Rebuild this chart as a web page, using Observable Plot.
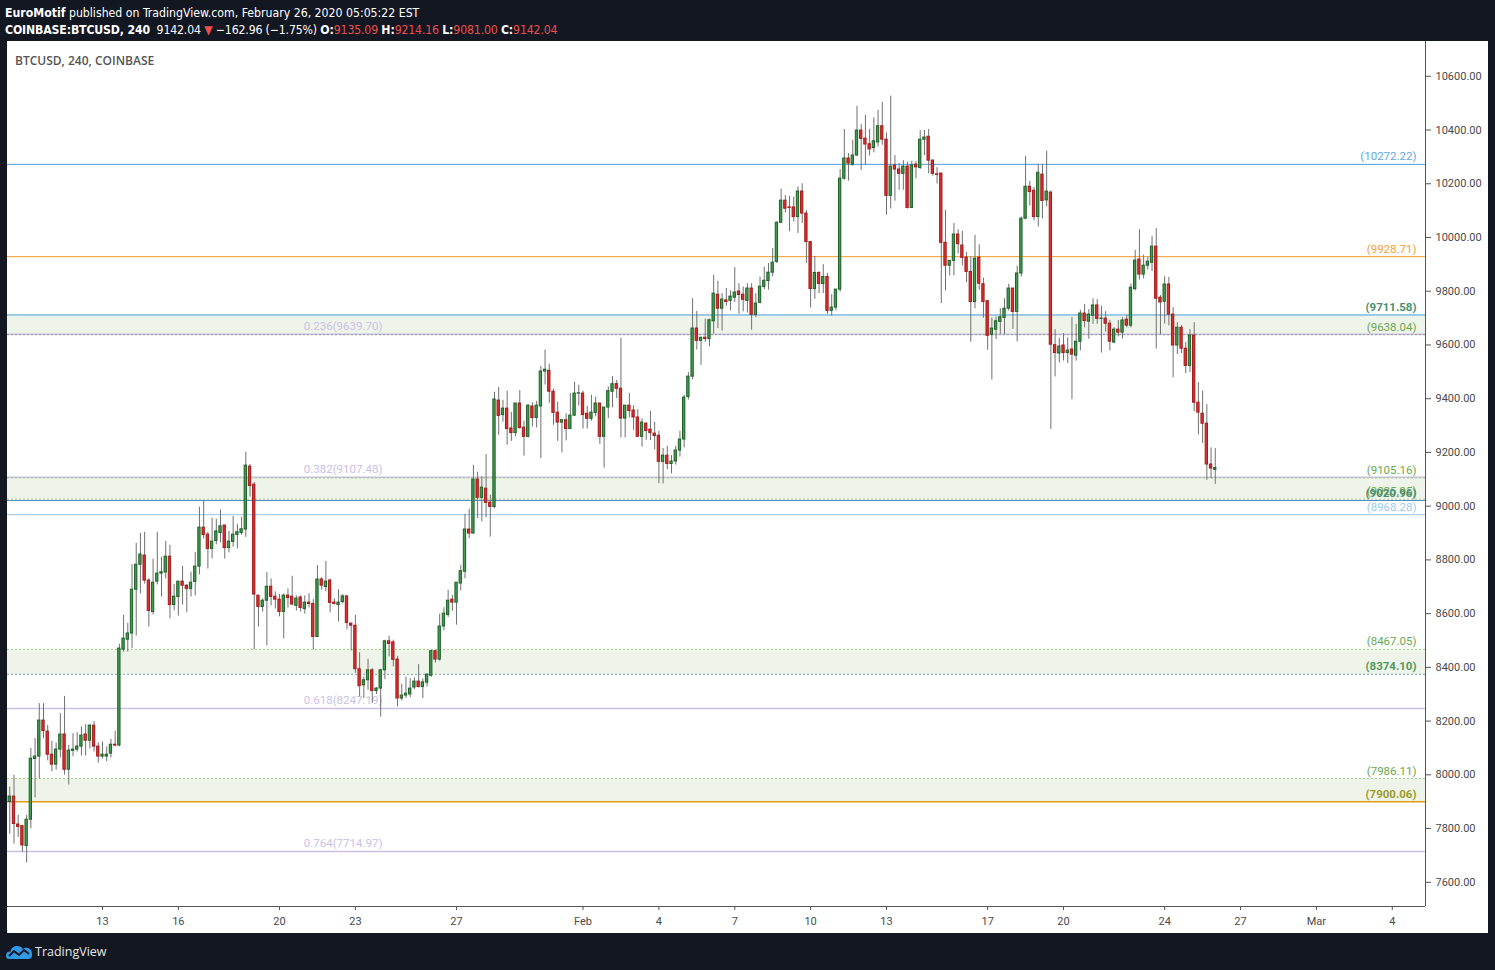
<!DOCTYPE html>
<html><head><meta charset="utf-8">
<script src="https://cdn.jsdelivr.net/npm/d3@7"></script>
<script src="https://cdn.jsdelivr.net/npm/@observablehq/plot@0.6"></script>
<style>
body{margin:0;background:#131722;width:1495px;height:970px;overflow:hidden;position:relative;}
#hdr{position:absolute;left:5px;top:5px;color:#fff;font-family:"Liberation Sans Narrow","DejaVu Sans Condensed","Open Sans",sans-serif;font-size:12.2px;line-height:17px;white-space:nowrap;}
#hdr .r{color:#ef4d4d;}
#hdr .l2{letter-spacing:-0.15px;}
#panel{position:absolute;left:7px;top:41px;width:1481px;height:892px;background:#fff;}
#ttl{position:absolute;left:8px;top:11px;color:#555;font-family:"Open Sans",Roboto,sans-serif;font-size:12px;font-weight:600;}
#foot{position:absolute;left:6px;top:941px;height:20px;display:flex;align-items:center;color:#e6e6e6;font-family:"Open Sans",Roboto,sans-serif;font-size:12.5px;}
#foot svg{margin-right:2px;}
</style></head>
<body>
<div id="hdr"><div><b>EuroMotif</b> published on TradingView.com, February 26, 2020 05:05:22 EST</div>
<div class="l2"><b>COINBASE:BTCUSD, 240</b>&nbsp; 9142.04 <span class="r">▼</span> −162.96 (−1.75%) <b>O:</b><span class="r">9135.09</span> <b>H:</b><span class="r">9214.16</span> <b>L:</b><span class="r">9081.00</span> <b>C:</b><span class="r">9142.04</span></div></div>
<div id="panel"><div id="ttl">BTCUSD, 240, COINBASE</div></div>
<div id="foot"><svg width="27" height="18" viewBox="0 0 27 18"><path d="M3 17 Q0 17 0 13.5 Q0 9.5 4.5 9.5 Q5.5 4 11 4 Q15 4 17 7 Q19 5 22 6 Q26 7.5 26 12 Q26.5 17 22 17 Z" fill="#2f9be8"/><polyline points="3,14 8,9 13,13 18,8 23,12" fill="none" stroke="#131722" stroke-width="2"/></svg><span>TradingView</span></div>
<script>
// 4-hour bars starting Jan 9 2020 08:00 UTC
const barStart = Date.UTC(2020,0,9,8);
const barStepHours = 4;
const open = [7899,7919,7815,7809,7735,7833,8059,8068,8202,8161,8075,8038,8094,8150,8019,8089,8094,8105,8150,8127,8183,8105,8068,8068,8079,8112,8109,8466,8503,8526,8689,8782,8816,8723,8606,8719,8749,8753,8812,8632,8662,8719,8704,8692,8718,8775,8920,8894,8841,8870,8900,8928,8844,8867,8893,8900,8913,9147,9080,8667,8625,8648,8700,8663,8652,8606,8667,8663,8629,8660,8617,8641,8636,8513,8727,8699,8723,8641,8632,8643,8664,8563,8555,8393,8333,8352,8389,8312,8321,8389,8497,8493,8429,8284,8295,8299,8325,8347,8327,8343,8369,8460,8429,8552,8595,8652,8641,8712,8756,8913,8898,9099,9031,9065,9013,8997,9393,9339,9363,9289,9272,9382,9292,9258,9371,9328,9371,9501,9504,9426,9348,9311,9320,9287,9337,9419,9419,9344,9325,9347,9382,9258,9367,9426,9454,9437,9326,9374,9356,9330,9258,9307,9285,9270,9262,9165,9188,9157,9166,9207,9248,9406,9482,9661,9615,9627,9622,9688,9787,9735,9766,9764,9776,9799,9787,9764,9810,9712,9757,9816,9838,9869,9909,10055,10137,10112,10112,10076,10171,10089,9983,9808,9868,9827,9853,9727,9739,9806,10219,10294,10271,10305,10398,10368,10347,10333,10354,10414,10364,10155,10268,10253,10237,10264,10110,10271,10259,10364,10375,10286,10235,10238,9980,9895,9913,10011,9970,9925,9872,9760,9925,9826,9763,9638,9657,9686,9701,9735,9810,9723,9866,10070,10189,10174,10076,10234,10138,10167,9599,9568,9598,9570,9583,9560,9612,9717,9687,9709,9747,9697,9698,9679,9609,9657,9646,9694,9672,9808,9918,9862,9895,9906,9966,9776,9761,9825,9713,9598,9664,9586,9522,9635,9385,9344,9307,9155,9135.09];
const high = [7954,7998,7849,7812,7849,8098,8135,8265,8265,8184,8125,8119,8228,8292,8110,8153,8157,8179,8187,8187,8198,8119,8122,8104,8132,8162,8486,8594,8564,8782,8862,8899,8903,8730,8802,8903,8810,8869,8854,8709,8719,8776,8708,8754,8828,8996,9018,8902,8955,8951,8985,8928,8906,8962,8933,8959,9201,9155,9088,8667,8655,8753,8729,8681,8671,8673,8692,8739,8666,8667,8666,8674,8652,8779,8734,8794,8729,8656,8689,8671,8667,8563,8594,8454,8364,8430,8395,8325,8393,8501,8516,8501,8441,8337,8364,8358,8361,8410,8357,8374,8464,8464,8598,8622,8687,8668,8715,8779,8970,8988,9152,9126,9110,9192,9041,9424,9442,9394,9428,9349,9382,9430,9316,9378,9385,9390,9521,9581,9528,9435,9387,9320,9344,9420,9461,9450,9428,9372,9413,9405,9382,9367,9444,9482,9468,9625,9374,9420,9374,9359,9325,9311,9353,9312,9279,9215,9223,9188,9223,9279,9413,9497,9772,9725,9627,9696,9696,9859,9837,9791,9810,9802,9888,9828,9816,9828,9828,9791,9853,9890,9903,9959,10058,10180,10156,10153,10150,10188,10200,10101,9983,9930,9872,9899,9866,9787,9806,10253,10402,10312,10362,10488,10420,10455,10403,10445,10473,10503,10389,10526,10305,10275,10286,10280,10284,10282,10398,10398,10402,10290,10260,10238,10101,9913,10052,10029,10023,9944,9928,10008,9973,9849,9763,9700,9704,9735,9772,9826,9810,9893,10076,10302,10209,10186,10272,10272,10321,10174,9657,9624,9642,9627,9702,9677,9729,9751,9731,9772,9769,9744,9724,9692,9664,9691,9702,9710,9826,9952,10029,9934,9926,10003,10033,9784,9854,9852,9739,9683,9672,9609,9657,9683,9460,9428,9378,9217,9214.16];
const low = [7779,7742,7767,7712,7672,7799,7914,7985,8134,8052,8011,8017,8063,7999,7962,8067,8085,8070,8070,8096,8085,8044,8059,8049,8063,8104,8104,8457,8457,8470,8517,8673,8710,8550,8595,8707,8662,8729,8580,8610,8591,8632,8603,8662,8666,8744,8878,8766,8804,8856,8863,8803,8826,8847,8841,8892,8884,9034,8466,8550,8606,8480,8629,8617,8588,8506,8621,8629,8610,8606,8598,8621,8465,8513,8687,8681,8603,8632,8569,8636,8539,8461,8378,8290,8284,8315,8265,8299,8215,8354,8439,8402,8253,8275,8284,8287,8317,8323,8284,8327,8363,8416,8423,8536,8586,8609,8557,8684,8730,8879,8898,8954,8942,8957,8885,8990,9264,9312,9227,9241,9258,9286,9186,9254,9295,9291,9177,9451,9383,9301,9241,9198,9243,9287,9333,9373,9287,9287,9316,9333,9230,9142,9326,9366,9400,9254,9254,9329,9282,9258,9220,9245,9244,9209,9083,9083,9136,9120,9153,9183,9217,9395,9470,9581,9524,9610,9593,9640,9661,9652,9744,9727,9758,9714,9723,9719,9655,9702,9753,9806,9804,9853,9903,10052,10091,10021,10058,10015,10052,9903,9738,9770,9791,9791,9714,9708,9727,9796,10213,10210,10265,10302,10250,10269,10303,10315,10337,10343,10083,10106,10135,10176,10176,10106,10110,10218,10253,10305,10237,10228,10199,9754,9801,9857,9857,9940,9894,9832,9610,9734,9804,9700,9580,9470,9620,9640,9638,9726,9658,9611,9853,10066,10117,10062,10039,10069,10114,9285,9481,9533,9540,9531,9396,9540,9578,9664,9621,9677,9677,9570,9648,9578,9605,9630,9622,9664,9664,9801,9841,9846,9879,9873,9585,9638,9678,9671,9478,9564,9568,9493,9497,9351,9265,9233,9096,9102,9081.00];
const close = [7919,7817,7806,7737,7833,8060,8068,8202,8163,8075,8038,8094,8150,8019,8090,8094,8105,8146,8127,8183,8105,8068,8075,8075,8112,8109,8470,8507,8526,8689,8782,8820,8723,8610,8715,8749,8754,8812,8632,8663,8719,8704,8692,8715,8775,8920,8893,8841,8868,8906,8925,8844,8868,8894,8903,8914,9151,9075,8671,8625,8648,8700,8662,8652,8606,8667,8658,8634,8656,8621,8641,8636,8513,8727,8704,8719,8640,8636,8641,8664,8565,8555,8393,8330,8352,8389,8312,8321,8389,8497,8487,8428,8284,8295,8302,8321,8347,8327,8344,8373,8460,8429,8552,8600,8648,8641,8715,8758,8913,8898,9099,9031,9069,9012,8997,9397,9336,9363,9287,9272,9382,9291,9258,9374,9328,9374,9501,9508,9426,9347,9311,9320,9287,9337,9419,9420,9339,9325,9348,9382,9258,9367,9428,9454,9437,9326,9374,9354,9330,9258,9311,9280,9272,9261,9165,9188,9157,9166,9207,9248,9404,9482,9661,9615,9627,9622,9692,9791,9735,9769,9760,9780,9795,9786,9768,9810,9712,9754,9817,9839,9869,9906,10055,10137,10107,10110,10076,10171,10089,9983,9808,9868,9827,9853,9727,9739,9806,10219,10294,10275,10305,10398,10367,10346,10328,10358,10414,10364,10155,10264,10253,10237,10264,10110,10268,10261,10364,10372,10286,10237,10233,9980,9895,9913,10011,9975,9924,9872,9760,9921,9828,9760,9634,9661,9688,9703,9735,9810,9723,9866,10070,10189,10169,10076,10241,10136,10171,9601,9570,9594,9570,9579,9564,9612,9717,9689,9713,9747,9697,9698,9679,9612,9657,9646,9691,9672,9813,9914,9862,9895,9910,9966,9772,9758,9825,9713,9598,9664,9586,9522,9635,9385,9348,9307,9155,9140,9142.04];

// horizontal levels drawn on the chart
const levelPrices = [10272.22, 9928.71, 9711.58, 9638.04, 9105.16, 9025.95, 9020.96, 8968.28, 8467.05, 8374.10, 7986.11, 7900.06];
const levelLabels = ["(10272.22)","(9928.71)","(9711.58)","(9638.04)","(9105.16)","(9025.95)","(9020.96)","(8968.28)","(8467.05)","(8374.10)","(7986.11)","(7900.06)"];
const zoneTop = [9711.58, 9105.16, 8467.05, 7986.11];
const zoneBottom = [9638.04, 9025.95, 8374.10, 7900.06];
const fibRatios = ["0.236","0.382","0.618","0.764"];
const fibPrices = [9639.70, 9107.48, 8247.19, 7714.97];

// axis ticks
const xTickDates = [[0,13],[0,16],[0,20],[0,23],[0,27],[1,1],[1,4],[1,7],[1,10],[1,13],[1,17],[1,20],[1,24],[1,27],[2,1],[2,4]];
const xTickLabels = ["13","16","20","23","27","Feb","4","7","10","13","17","20","24","27","Mar","4"];
const yTicks = [7600,7800,8000,8200,8400,8600,8800,9000,9200,9400,9600,9800,10000,10200,10400,10600];

// styles (not data)
const lineStyle = [
  {stroke:"#4a9ee0"},{stroke:"#f39c2a"},{stroke:"#4a9ee0"},{stroke:"#9a9a9a",dash:true},
  {stroke:"#98c87c",dash:true},{stroke:"#98c87c",dash:true},{stroke:"#4a8fc0"},{stroke:"#92c5ee"},
  {stroke:"#a5d18c",dash:true},{stroke:"#6aa3a3",dash:true},{stroke:"#a5d18c",dash:true},{stroke:"#e39b16",w:1.5}
];
const labelStyle = [
  {c:"#5eaae8"},{c:"#f5a236"},{c:"#4a8f6e",b:true},{c:"#6aa84f"},
  {c:"#6aa84f"},{c:"#6aa84f"},{c:"#4a8f6e",b:true},{c:"#9ccbf0"},
  {c:"#6aa84f"},{c:"#4f9a5f",b:true},{c:"#6aa84f"},{c:"#9c9c2c",b:true}
];

const DAY = 864e5, HOUR = 36e5;
const jan13 = Date.UTC(2020,0,13);
const xd0 = new Date(jan13 - 3.7564*DAY), xd1 = new Date(jan13 + 52.313*DAY);
const yd = [7509.9, 10729.5];

const bars = open.map((o,i)=>({t:new Date(barStart + i*barStepHours*HOUR), o, h:high[i], l:low[i], c:close[i]}));
const levels = levelPrices.map((p,i)=>({p, label:levelLabels[i], ...lineStyle[i], lc:labelStyle[i].c, b:!!labelStyle[i].b}));
const zones = zoneTop.map((t,i)=>({t, b:zoneBottom[i]}));
const fibs = fibPrices.map((p,i)=>({p, label:`${fibRatios[i]}(${p.toFixed(2)})`}));
const xTicks = xTickDates.map(([m,d])=>new Date(Date.UTC(2020,m,d)));
const xLab = new Map(xTicks.map((d,i)=>[+d, xTickLabels[i]]));
const fibLabelX = new Date(Date.UTC(2020,0,20,23));
const W = 1.1*HOUR;
const up = d=>d.c>=d.o;

const chart = Plot.plot({
  width:1481, height:892, marginLeft:0, marginRight:63, marginTop:0, marginBottom:27,
  style:{background:"transparent", fontFamily:"Roboto, 'Open Sans', sans-serif", fontSize:"11px", color:"#4a4a4a", overflow:"visible"},
  x:{type:"utc", domain:[xd0, xd1], label:null},
  y:{domain:yd, label:null},
  color:{type:"identity"},
  marks:[
    Plot.rect(zones,{x1:()=>xd0, x2:()=>xd1, y1:"t", y2:"b", fill:"#eef4ea"}),
    Plot.ruleY(fibs,{y:"p", stroke:"#cbbfe6", strokeWidth:1.5}),
    Plot.ruleY(levels.filter(d=>!d.dash),{y:"p", stroke:"stroke", strokeWidth:d=>d.w||1}),
    Plot.ruleY(levels.filter(d=>d.dash),{y:"p", stroke:"stroke", strokeDasharray:"2,2"}),
    Plot.text(fibs,{x:()=>fibLabelX, y:"p", text:"label", textAnchor:"start", lineAnchor:"bottom", dy:-4, fill:"#cbbfe6", fontSize:11.5}),
    Plot.text(levels.filter(d=>!d.b),{frameAnchor:"right", y:"p", dx:-9, text:"label", textAnchor:"end", lineAnchor:"bottom", dy:-4, fill:"lc", fontSize:11.5}),
    Plot.text(levels.filter(d=>d.b),{frameAnchor:"right", y:"p", dx:-9, text:"label", textAnchor:"end", lineAnchor:"bottom", dy:-4, fill:"lc", fontSize:11.5, fontWeight:"bold"}),
    Plot.ruleX(bars,{x:"t", y1:"l", y2:"h", stroke:"#707070", strokeWidth:1}),
    Plot.rect(bars,{x1:d=>new Date(+d.t-W), x2:d=>new Date(+d.t+W), y1:"o", y2:"c",
      fill:d=>up(d)?"#459b52":"#d8312f", stroke:d=>up(d)?"#1e6128":"#a31b1b", strokeWidth:1}),
    Plot.ruleY([yd[0]],{stroke:"#555"}),
    Plot.ruleX([xd1],{stroke:"#555"}),
    Plot.axisX({ticks:xTicks, tickFormat:d=>xLab.get(+d), tickSize:4, tickPadding:7, stroke:"#555", fill:"#4a4a4a", fontSize:11}),
    Plot.axisY({anchor:"right", ticks:yTicks, tickFormat:d3.format(".2f"), tickSize:5, tickPadding:5, stroke:"#555", fill:"#4a4a4a", fontSize:11})
  ]
});
document.getElementById("panel").appendChild(chart);
</script>
</body></html>
